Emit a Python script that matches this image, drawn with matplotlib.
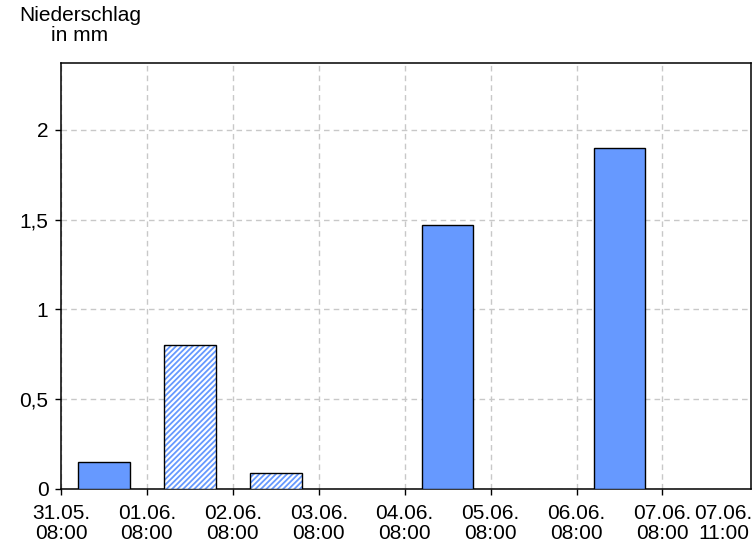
import matplotlib
matplotlib.use("Agg")
import matplotlib.pyplot as plt

plt.rcParams['font.family'] = ['Liberation Sans', 'DejaVu Sans']
plt.rcParams['hatch.linewidth'] = 1.3

# daily precipitation (mm), one bar per day starting 31.05. 08:00
days = [0, 1, 2, 3, 4, 5, 6]
precip = [0.15, 0.80, 0.09, 0.0, 1.47, 0.0, 1.90]
hatched = [False, True, True, False, False, False, False]
tick_labels = ["31.05.\n08:00", "01.06.\n08:00", "02.06.\n08:00", "03.06.\n08:00",
               "04.06.\n08:00", "05.06.\n08:00", "06.06.\n08:00", "07.06.\n08:00"]
end_label = "07.06.\n11:00"
y_ticks = [0, 0.5, 1, 1.5, 2]
y_labels = ["0", "0,5", "1", "1,5", "2"]

blue = "#6699ff"
fs = 15

fig = plt.figure(figsize=(7.56, 5.46), dpi=100)
ax = fig.add_axes([61/756, 1 - 489/546, 690/756, 426/546])

for d, v, h in zip(days, precip, hatched):
    if v <= 0:
        continue
    x = d + 0.5
    if h:
        ax.bar(x, v, width=0.6, color="white", edgecolor=blue, hatch="//////",
               linewidth=0, zorder=3)
        ax.bar(x, v, width=0.6, fill=False, edgecolor="black", linewidth=1.0, zorder=4)
    else:
        ax.bar(x, v, width=0.6, color=blue, edgecolor="black", linewidth=1.0, zorder=3)

ax.set_xlim(0, 8.03)
ax.set_ylim(0, 2.373)
# last label (current time) sits without tick mark or grid line
ax.set_xticks(list(range(len(tick_labels))) + [7.71])
ax.set_xticklabels(tick_labels + [end_label], fontsize=fs, linespacing=1.05)
ax.set_yticks(y_ticks)
ax.set_yticklabels(y_labels, fontsize=fs)
ax.tick_params(axis="x", direction="out", length=4, width=1, pad=7, colors="black")
ax.tick_params(axis="y", direction="out", length=4, width=1, pad=5, colors="black")

ax.grid(True, color="#c8c8c8", linestyle=(0, (4, 3)), linewidth=1.0, zorder=0)
ax.set_axisbelow(True)
last = ax.xaxis.get_major_ticks()[-1]
last.tick1line.set_visible(False)
last.gridline.set_visible(False)
for s in ax.spines.values():
    s.set_linewidth(1.1)

fig.text(80/756, 1 - 6/546, "Niederschlag\nin mm", ha="center", va="top",
         fontsize=fs, linespacing=1.05)

fig.savefig("out.png", dpi=100)
